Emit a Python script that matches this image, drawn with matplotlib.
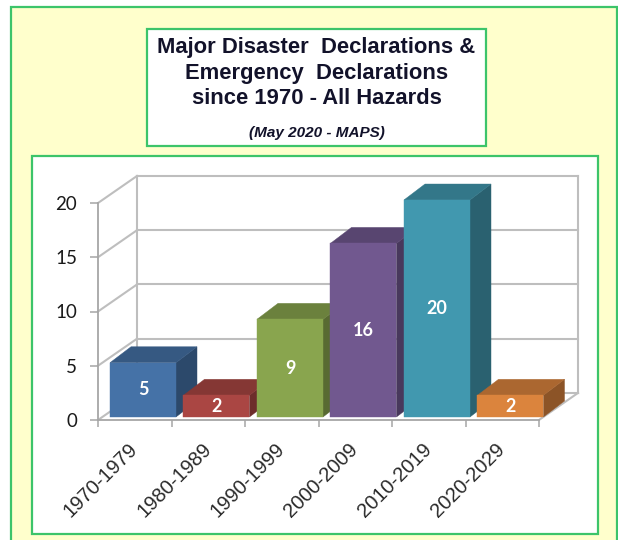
import matplotlib
matplotlib.use("Agg")
import matplotlib.pyplot as plt
from matplotlib.patches import Rectangle, Polygon
import numpy as np

# ---- data ----
categories = ["1970-1979", "1980-1989", "1990-1999", "2000-2009", "2010-2019", "2020-2029"]
values = [5, 2, 9, 16, 20, 2]
bar_colors = ["#4572A7", "#AA4643", "#89A54E", "#71588F", "#4198AF", "#DB843D"]
y_ticks = [0, 5, 10, 15, 20]
title_lines = ["Major Disaster  Declarations &", "Emergency  Declarations", "since 1970 - All Hazards"]
subtitle = "(May 2020 - MAPS)"

W, H = 618, 540
fig = plt.figure(figsize=(W / 100, H / 100), dpi=100, facecolor="white")

# ---- background / frames (pixel coordinates) ----
bg = fig.add_axes([0, 0, 1, 1])
bg.set_xlim(0, W)
bg.set_ylim(H, 0)
bg.axis("off")
green = "#3CC46A"
bg.add_patch(Rectangle((11, 7), 606, 560, facecolor="#FFFFCC", edgecolor=green, lw=1.6))
bg.add_patch(Rectangle((32, 156), 566, 378, facecolor="white", edgecolor=green, lw=1.6))
bg.add_patch(Rectangle((147, 29), 339, 117, facecolor="white", edgecolor=green, lw=1.6))

title_color = "#12122a"
for k, line in enumerate(title_lines):
    bg.text(316.5, 53 + k * 25.5, line, ha="center", va="baseline", fontsize=15.8,
            fontweight="bold", color=title_color, family="Liberation Sans")
bg.text(316.5, 137, subtitle, ha="center", va="baseline", fontsize=11, fontweight="bold",
        fontstyle="italic", color=title_color, family="Liberation Sans")

# ---- main (front plane) axes ----
x0p, x1p, y0p, y1p = 98, 539, 420, 203
ax = fig.add_axes([x0p / W, (H - y0p) / H, (x1p - x0p) / W, (y0p - y1p) / H])
ax.set_facecolor("none")
ax.set_xlim(0, len(categories))
ax.set_ylim(0, 20)

grid_c = "#BEBEBE"
axis_c = "#A6A6A6"
for s in ["top", "right"]:
    ax.spines[s].set_visible(False)
for s in ["left", "bottom"]:
    ax.spines[s].set_color(axis_c)
    ax.spines[s].set_linewidth(1.3)

ax.set_yticks(y_ticks)
ax.set_yticklabels([str(t) for t in y_ticks], fontsize=13.5, color="#1a1a1a", family="Lato")
ax.tick_params(axis="y", length=6, width=1.1, color=axis_c, pad=9)

centers = np.arange(len(categories)) + 0.5
ax.set_xticks(centers)
ax.set_xticklabels(categories, fontsize=14.5, color="#2a2a2a", family="Liberation Sans",
                   rotation=45, ha="right", va="center", rotation_mode="anchor")
ax.set_xticks(np.arange(len(categories) + 1), minor=True)
ax.tick_params(axis="x", which="major", length=0, pad=19)
ax.tick_params(axis="x", which="minor", length=5, width=1.1, color=axis_c)

# ---- pseudo-3D walls ----
wd = (0.53, 2.49)      # wall depth (x in categories, y in value units)
n = len(categories)
for t in y_ticks:
    ax.plot([wd[0], n + wd[0]], [t + wd[1], t + wd[1]], color=grid_c, lw=1.5, zorder=1, clip_on=False)
    ax.plot([0, wd[0]], [t, t + wd[1]], color=grid_c, lw=1.5, zorder=1, clip_on=False)
ax.plot([wd[0], wd[0]], [wd[1], 20 + wd[1]], color=grid_c, lw=1.5, zorder=1, clip_on=False)
ax.plot([n + wd[0], n + wd[0]], [wd[1], 20 + wd[1]], color=grid_c, lw=1.5, zorder=1, clip_on=False)
ax.plot([n, n + wd[0]], [0, wd[1]], color=grid_c, lw=1.5, zorder=1, clip_on=False)

# ---- pseudo-3D bars ----
off = (0.163, 0.28)
bw = 0.898
bd = (0.286, 1.47)


def shade(c, f):
    r, g, b = matplotlib.colors.to_rgb(c)
    return (r * f, g * f, b * f)


for i, (v, c) in enumerate(zip(values, bar_colors)):
    xa = i + off[0]
    xb = xa + bw
    yb = off[1]
    yt = off[1] + v
    z = 3 + i
    front = Polygon([(xa, yb), (xb, yb), (xb, yt), (xa, yt)], closed=True,
                    facecolor=c, edgecolor=c, lw=0.3, zorder=z, clip_on=False)
    top = Polygon([(xa, yt), (xb, yt), (xb + bd[0], yt + bd[1]), (xa + bd[0], yt + bd[1])], closed=True,
                  facecolor=shade(c, 0.78), edgecolor=shade(c, 0.78), lw=0.3, zorder=z, clip_on=False)
    side = Polygon([(xb, yb), (xb + bd[0], yb + bd[1]), (xb + bd[0], yt + bd[1]), (xb, yt)], closed=True,
                   facecolor=shade(c, 0.64), edgecolor=shade(c, 0.64), lw=0.3, zorder=z, clip_on=False)
    for p in (side, top, front):
        ax.add_patch(p)
    ax.text((xa + xb) / 2, (yb + yt) / 2, str(v), ha="center", va="center", color="white",
            fontsize=13, fontweight="bold", family="Lato", zorder=z + 0.5, clip_on=False)

fig.savefig("out.png", dpi=100, facecolor=fig.get_facecolor())
